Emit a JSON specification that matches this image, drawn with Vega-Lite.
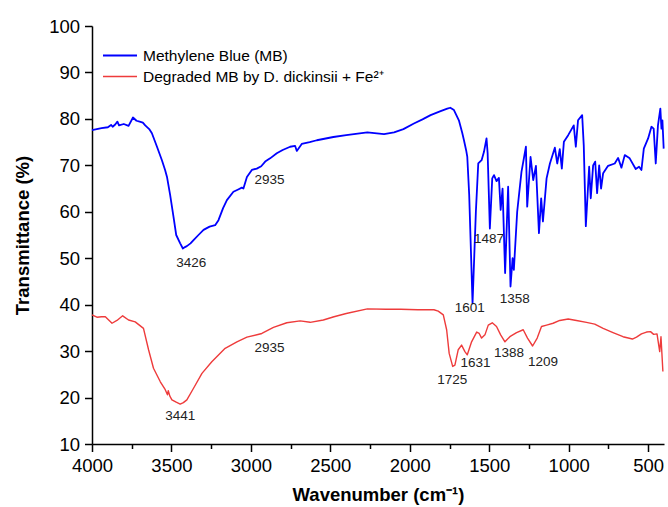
{
  "$schema": "https://vega.github.io/schema/vega-lite/v6.json",
  "width": 572,
  "height": 418,
  "autosize": {"type": "none"},
  "padding": {"left": 92, "top": 26, "right": 4, "bottom": 63},
  "background": "white",
  "config": {
    "view": {"stroke": null},
    "font": "Liberation Sans",
    "axis": {"grid": false, "domainColor": "black", "tickColor": "black", "labelColor": "black", "titleColor": "black", "domainWidth": 1.5, "tickWidth": 1.5, "labelFont": "Liberation Sans", "titleFont": "Liberation Sans"}
  },
  "datasets": {
    "spectra": [
      {"s":"MB","wn":4000,"t":77.6},{"s":"MB","wn":3970,"t":77.8},{"s":"MB","wn":3940,"t":78.0},{"s":"MB","wn":3900,"t":78.2},{"s":"MB","wn":3880,"t":78.7},{"s":"MB","wn":3870,"t":78.3},{"s":"MB","wn":3854,"t":78.8},{"s":"MB","wn":3840,"t":79.4},{"s":"MB","wn":3830,"t":78.6},{"s":"MB","wn":3800,"t":78.9},{"s":"MB","wn":3770,"t":78.5},{"s":"MB","wn":3742,"t":80.3},{"s":"MB","wn":3720,"t":79.6},{"s":"MB","wn":3700,"t":79.4},{"s":"MB","wn":3680,"t":79.2},{"s":"MB","wn":3665,"t":78.6},{"s":"MB","wn":3640,"t":77.8},{"s":"MB","wn":3623,"t":76.9},{"s":"MB","wn":3591,"t":74.0},{"s":"MB","wn":3560,"t":71.1},{"s":"MB","wn":3540,"t":69.0},{"s":"MB","wn":3528,"t":67.5},{"s":"MB","wn":3508,"t":63.6},{"s":"MB","wn":3487,"t":58.9},{"s":"MB","wn":3470,"t":55.0},{"s":"MB","wn":3445,"t":53.2},{"s":"MB","wn":3428,"t":52.1},{"s":"MB","wn":3415,"t":52.4},{"s":"MB","wn":3403,"t":52.6},{"s":"MB","wn":3380,"t":53.2},{"s":"MB","wn":3361,"t":53.9},{"s":"MB","wn":3330,"t":55.0},{"s":"MB","wn":3298,"t":56.1},{"s":"MB","wn":3260,"t":56.8},{"s":"MB","wn":3225,"t":57.1},{"s":"MB","wn":3204,"t":58.2},{"s":"MB","wn":3175,"t":60.8},{"s":"MB","wn":3151,"t":62.5},{"s":"MB","wn":3110,"t":64.3},{"s":"MB","wn":3080,"t":64.8},{"s":"MB","wn":3057,"t":65.2},{"s":"MB","wn":3047,"t":65.0},{"s":"MB","wn":3025,"t":67.5},{"s":"MB","wn":2994,"t":69.0},{"s":"MB","wn":2963,"t":69.3},{"s":"MB","wn":2935,"t":69.8},{"s":"MB","wn":2910,"t":70.8},{"s":"MB","wn":2879,"t":71.5},{"s":"MB","wn":2837,"t":72.6},{"s":"MB","wn":2800,"t":73.3},{"s":"MB","wn":2753,"t":74.0},{"s":"MB","wn":2722,"t":74.2},{"s":"MB","wn":2711,"t":73.1},{"s":"MB","wn":2680,"t":74.6},{"s":"MB","wn":2630,"t":75.0},{"s":"MB","wn":2585,"t":75.4},{"s":"MB","wn":2481,"t":76.1},{"s":"MB","wn":2400,"t":76.5},{"s":"MB","wn":2267,"t":77.1},{"s":"MB","wn":2162,"t":76.7},{"s":"MB","wn":2099,"t":77.1},{"s":"MB","wn":2040,"t":77.8},{"s":"MB","wn":1974,"t":79.0},{"s":"MB","wn":1920,"t":79.9},{"s":"MB","wn":1869,"t":80.8},{"s":"MB","wn":1810,"t":81.6},{"s":"MB","wn":1764,"t":82.2},{"s":"MB","wn":1745,"t":82.4},{"s":"MB","wn":1722,"t":81.9},{"s":"MB","wn":1691,"t":79.7},{"s":"MB","wn":1670,"t":77.0},{"s":"MB","wn":1659,"t":75.4},{"s":"MB","wn":1645,"t":73.2},{"s":"MB","wn":1638,"t":71.8},{"s":"MB","wn":1626,"t":63.6},{"s":"MB","wn":1605,"t":40.3},{"s":"MB","wn":1584,"t":60.0},{"s":"MB","wn":1569,"t":70.4},{"s":"MB","wn":1548,"t":71.1},{"s":"MB","wn":1533,"t":72.9},{"s":"MB","wn":1517,"t":75.8},{"s":"MB","wn":1510,"t":72.6},{"s":"MB","wn":1496,"t":56.4},{"s":"MB","wn":1481,"t":67.2},{"s":"MB","wn":1470,"t":67.9},{"s":"MB","wn":1454,"t":66.6},{"s":"MB","wn":1439,"t":67.3},{"s":"MB","wn":1428,"t":60.4},{"s":"MB","wn":1416,"t":65.0},{"s":"MB","wn":1400,"t":46.8},{"s":"MB","wn":1381,"t":65.4},{"s":"MB","wn":1366,"t":43.9},{"s":"MB","wn":1353,"t":50.0},{"s":"MB","wn":1345,"t":47.5},{"s":"MB","wn":1324,"t":60.0},{"s":"MB","wn":1297,"t":68.6},{"s":"MB","wn":1269,"t":74.0},{"s":"MB","wn":1261,"t":61.1},{"s":"MB","wn":1240,"t":71.8},{"s":"MB","wn":1223,"t":66.8},{"s":"MB","wn":1206,"t":69.9},{"s":"MB","wn":1187,"t":55.4},{"s":"MB","wn":1173,"t":62.9},{"s":"MB","wn":1162,"t":57.9},{"s":"MB","wn":1139,"t":67.2},{"s":"MB","wn":1118,"t":70.4},{"s":"MB","wn":1087,"t":73.8},{"s":"MB","wn":1072,"t":70.4},{"s":"MB","wn":1056,"t":73.5},{"s":"MB","wn":1043,"t":69.3},{"s":"MB","wn":1030,"t":75.1},{"s":"MB","wn":1003,"t":76.5},{"s":"MB","wn":968,"t":78.6},{"s":"MB","wn":955,"t":74.0},{"s":"MB","wn":941,"t":79.7},{"s":"MB","wn":915,"t":80.8},{"s":"MB","wn":905,"t":74.3},{"s":"MB","wn":892,"t":56.9},{"s":"MB","wn":881,"t":63.6},{"s":"MB","wn":871,"t":69.7},{"s":"MB","wn":861,"t":62.9},{"s":"MB","wn":846,"t":70.0},{"s":"MB","wn":833,"t":70.8},{"s":"MB","wn":821,"t":64.0},{"s":"MB","wn":808,"t":70.0},{"s":"MB","wn":796,"t":65.0},{"s":"MB","wn":783,"t":68.3},{"s":"MB","wn":752,"t":69.9},{"s":"MB","wn":710,"t":70.4},{"s":"MB","wn":689,"t":71.6},{"s":"MB","wn":668,"t":69.5},{"s":"MB","wn":647,"t":72.2},{"s":"MB","wn":616,"t":71.5},{"s":"MB","wn":578,"t":69.2},{"s":"MB","wn":557,"t":69.7},{"s":"MB","wn":542,"t":69.0},{"s":"MB","wn":527,"t":73.6},{"s":"MB","wn":500,"t":75.8},{"s":"MB","wn":479,"t":78.3},{"s":"MB","wn":465,"t":77.9},{"s":"MB","wn":452,"t":70.4},{"s":"MB","wn":438,"t":78.6},{"s":"MB","wn":423,"t":82.2},{"s":"MB","wn":416,"t":77.9},{"s":"MB","wn":410,"t":79.7},{"s":"MB","wn":402,"t":73.6},
      {"s":"DMB","wn":4000,"t":37.8},{"s":"DMB","wn":3969,"t":37.3},{"s":"DMB","wn":3940,"t":37.4},{"s":"DMB","wn":3916,"t":37.4},{"s":"DMB","wn":3874,"t":36.0},{"s":"DMB","wn":3843,"t":36.6},{"s":"DMB","wn":3807,"t":37.6},{"s":"DMB","wn":3770,"t":36.7},{"s":"DMB","wn":3728,"t":36.3},{"s":"DMB","wn":3676,"t":34.9},{"s":"DMB","wn":3644,"t":30.3},{"s":"DMB","wn":3613,"t":26.3},{"s":"DMB","wn":3570,"t":23.4},{"s":"DMB","wn":3539,"t":21.7},{"s":"DMB","wn":3525,"t":20.6},{"s":"DMB","wn":3520,"t":21.5},{"s":"DMB","wn":3510,"t":20.3},{"s":"DMB","wn":3497,"t":19.5},{"s":"DMB","wn":3470,"t":19.0},{"s":"DMB","wn":3445,"t":18.6},{"s":"DMB","wn":3425,"t":18.9},{"s":"DMB","wn":3403,"t":19.5},{"s":"DMB","wn":3361,"t":22.0},{"s":"DMB","wn":3308,"t":25.2},{"s":"DMB","wn":3246,"t":27.7},{"s":"DMB","wn":3162,"t":30.6},{"s":"DMB","wn":3088,"t":32.0},{"s":"DMB","wn":3025,"t":33.0},{"s":"DMB","wn":2931,"t":33.8},{"s":"DMB","wn":2858,"t":35.1},{"s":"DMB","wn":2774,"t":36.1},{"s":"DMB","wn":2690,"t":36.5},{"s":"DMB","wn":2627,"t":36.2},{"s":"DMB","wn":2544,"t":36.7},{"s":"DMB","wn":2477,"t":37.4},{"s":"DMB","wn":2400,"t":38.1},{"s":"DMB","wn":2267,"t":39.1},{"s":"DMB","wn":2150,"t":39.0},{"s":"DMB","wn":2057,"t":39.0},{"s":"DMB","wn":1950,"t":38.9},{"s":"DMB","wn":1848,"t":38.9},{"s":"DMB","wn":1821,"t":38.6},{"s":"DMB","wn":1789,"t":37.8},{"s":"DMB","wn":1768,"t":34.6},{"s":"DMB","wn":1752,"t":29.5},{"s":"DMB","wn":1730,"t":26.7},{"s":"DMB","wn":1716,"t":27.0},{"s":"DMB","wn":1695,"t":30.3},{"s":"DMB","wn":1674,"t":31.3},{"s":"DMB","wn":1653,"t":29.9},{"s":"DMB","wn":1638,"t":29.2},{"s":"DMB","wn":1611,"t":32.0},{"s":"DMB","wn":1579,"t":34.1},{"s":"DMB","wn":1563,"t":33.8},{"s":"DMB","wn":1548,"t":32.8},{"s":"DMB","wn":1527,"t":33.5},{"s":"DMB","wn":1506,"t":35.6},{"s":"DMB","wn":1481,"t":36.1},{"s":"DMB","wn":1454,"t":35.3},{"s":"DMB","wn":1428,"t":33.5},{"s":"DMB","wn":1401,"t":32.0},{"s":"DMB","wn":1370,"t":33.1},{"s":"DMB","wn":1328,"t":34.0},{"s":"DMB","wn":1286,"t":34.6},{"s":"DMB","wn":1259,"t":32.8},{"s":"DMB","wn":1227,"t":31.1},{"s":"DMB","wn":1198,"t":32.8},{"s":"DMB","wn":1171,"t":35.3},{"s":"DMB","wn":1139,"t":35.6},{"s":"DMB","wn":1098,"t":36.0},{"s":"DMB","wn":1056,"t":36.6},{"s":"DMB","wn":1003,"t":36.9},{"s":"DMB","wn":951,"t":36.6},{"s":"DMB","wn":888,"t":36.2},{"s":"DMB","wn":836,"t":35.8},{"s":"DMB","wn":783,"t":34.9},{"s":"DMB","wn":721,"t":34.0},{"s":"DMB","wn":658,"t":33.1},{"s":"DMB","wn":599,"t":32.6},{"s":"DMB","wn":573,"t":33.0},{"s":"DMB","wn":542,"t":33.7},{"s":"DMB","wn":510,"t":34.1},{"s":"DMB","wn":485,"t":34.2},{"s":"DMB","wn":465,"t":33.6},{"s":"DMB","wn":444,"t":33.7},{"s":"DMB","wn":427,"t":29.9},{"s":"DMB","wn":419,"t":33.1},{"s":"DMB","wn":407,"t":25.6}
    ],
    "labels": [
      {"wn":3376,"t":48.9,"label":"3426"},
      {"wn":2883,"t":66.8,"label":"2935"},
      {"wn":3445,"t":16.1,"label":"3441"},
      {"wn":2883,"t":30.6,"label":"2935"},
      {"wn":1502,"t":54.1,"label":"1487"},
      {"wn":1622,"t":39.2,"label":"1601"},
      {"wn":1339,"t":41.2,"label":"1358"},
      {"wn":1733,"t":23.8,"label":"1725"},
      {"wn":1586,"t":27.4,"label":"1631"},
      {"wn":1376,"t":29.7,"label":"1388"},
      {"wn":1161,"t":27.6,"label":"1209"}
    ]
  },
  "layer": [
    {
      "data": {"name": "spectra"},
      "mark": {"type": "line", "strokeJoin": "round"},
      "encoding": {
        "x": {
          "field": "wn", "type": "quantitative",
          "scale": {"domain": [4000, 400], "nice": false, "zero": false},
          "axis": {
            "title": "Wavenumber (cm⁻¹)",
            "titleFontSize": 18.5, "titleFontWeight": "bold", "titlePadding": 10,
            "values": [4000,3750,3500,3250,3000,2750,2500,2250,2000,1750,1500,1250,1000,750,500],
            "labelExpr": "datum.value % 500 === 0 ? format(datum.value, 'd') : ''",
            "labelFontSize": 18.5, "labelPadding": 5, "labelFlush": false,
            "tickSize": {"condition": {"test": "datum.value % 500 === 0", "value": 7.5}, "value": 4.5}
          }
        },
        "y": {
          "field": "t", "type": "quantitative",
          "scale": {"domain": [10, 100], "nice": false, "zero": false},
          "axis": {
            "title": "Transmittance (%)",
            "titleFontSize": 18.5, "titleFontWeight": "bold", "titlePadding": 16,
            "values": [10,15,20,25,30,35,40,45,50,55,60,65,70,75,80,85,90,95,100],
            "labelExpr": "datum.value % 10 === 0 ? format(datum.value, 'd') : ''",
            "labelFontSize": 18.5, "labelPadding": 5, "labelFlush": false,
            "tickSize": {"condition": {"test": "datum.value % 10 === 0", "value": 7.5}, "value": 4.5}
          }
        },
        "color": {
          "field": "s", "type": "nominal",
          "scale": {"domain": ["MB", "DMB"], "range": ["#0000FF", "#EE3B3B"]},
          "legend": {
            "title": null, "orient": "none", "legendX": 18.5, "legendY": 20,
            "symbolType": "M-2,0H2", "symbolSize": 289, "symbolStrokeWidth": 1.5,
            "labelFontSize": 15.5, "labelFont": "Liberation Sans", "labelColor": "black",
            "labelOffset": 13.5, "rowPadding": 3, "labelLimit": 500,
            "labelExpr": "datum.value === 'MB' ? 'Methylene Blue (MB)' : 'Degraded MB by D. dickinsii + Fe²⁺'"
          }
        },
        "strokeWidth": {
          "field": "s", "type": "nominal",
          "scale": {"domain": ["MB", "DMB"], "range": [1.8, 1.4]},
          "legend": null
        }
      }
    },
    {
      "data": {"name": "labels"},
      "mark": {"type": "text", "fontSize": 13.5, "color": "#222222", "align": "center", "baseline": "middle", "font": "Liberation Sans"},
      "encoding": {
        "x": {"field": "wn", "type": "quantitative"},
        "y": {"field": "t", "type": "quantitative"},
        "text": {"field": "label"}
      }
    }
  ]
}
